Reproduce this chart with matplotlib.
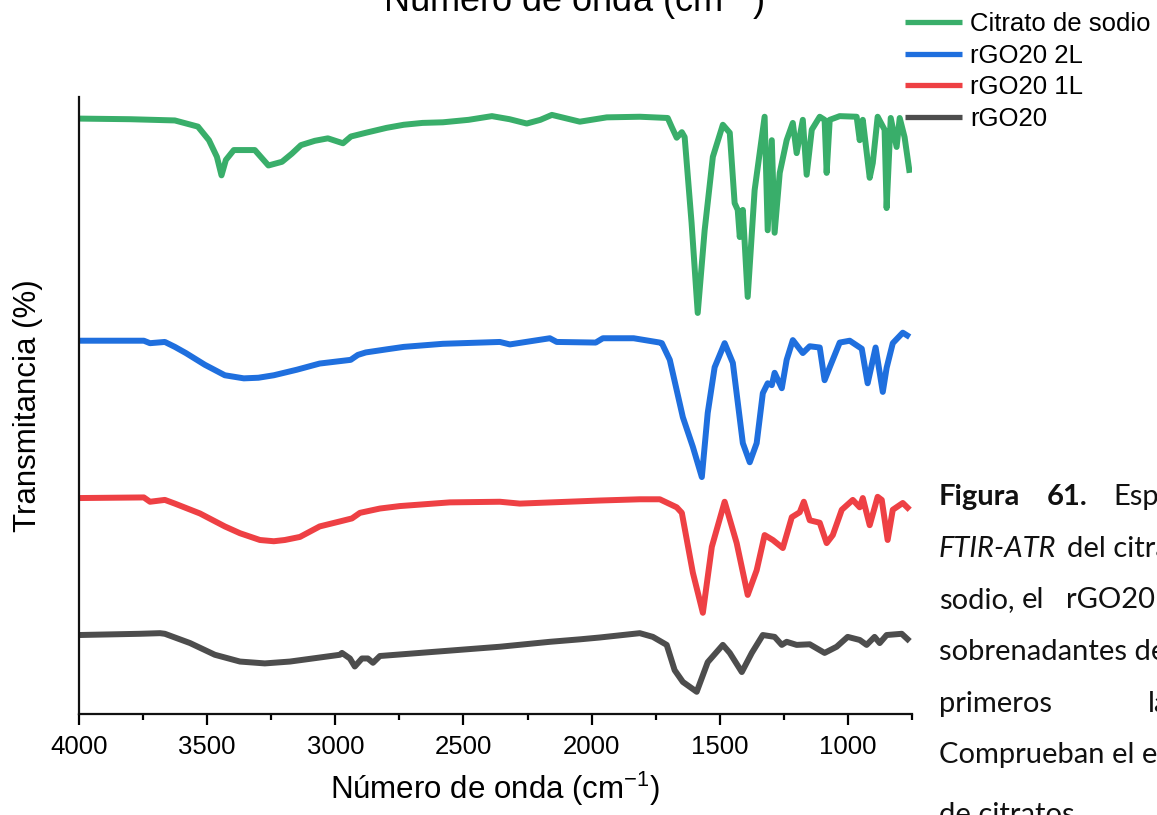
import matplotlib
matplotlib.use("Agg")
import matplotlib.pyplot as plt
from matplotlib.ticker import MultipleLocator, NullLocator

plt.rcParams['font.family'] = ['Liberation Sans', 'DejaVu Sans']
plt.rcParams['mathtext.fontset'] = 'custom'
plt.rcParams['mathtext.rm'] = 'Liberation Sans'
plt.rcParams['mathtext.it'] = 'Liberation Sans:italic'
plt.rcParams['mathtext.bf'] = 'Liberation Sans:bold'

# ---- FTIR-ATR spectra (stacked, arbitrary transmittance offsets) ----
citrato_wn = [4000, 3800, 3626, 3536, 3493, 3462, 3444, 3427, 3396, 3314, 3261, 3208,
              3170, 3134, 3080, 3029, 2970, 2939, 2881, 2800, 2733, 2660, 2580, 2480,
              2389, 2320, 2253, 2200, 2155, 2046, 1941, 1812,
              1703, 1687, 1668, 1648, 1637, 1610, 1586, 1559, 1527, 1488, 1461, 1442,
              1430, 1422, 1410, 1391, 1364, 1325, 1313, 1297, 1286, 1266, 1239, 1215,
              1200, 1176, 1161, 1141, 1110, 1091, 1083, 1071, 1032, 966, 954, 942,
              915, 903, 884, 857, 849, 833, 810, 798, 779, 759]
citrato_t = [96.5, 96.4, 96.2, 95.2, 93.0, 90.3, 87.3, 89.8, 91.4, 91.4, 88.9, 89.5,
             90.8, 92.2, 92.9, 93.3, 92.5, 93.6, 94.2, 95.0, 95.5, 95.8, 95.9, 96.3,
             96.9, 96.4, 95.7, 96.3, 97.1, 96.0, 96.7, 96.8,
             96.6, 95.1, 93.4, 94.3, 93.5, 79.6, 65.0, 78.4, 90.3, 95.5, 94.2, 82.8,
             81.7, 77.3, 81.7, 67.6, 84.9, 96.8, 78.4, 93.0, 78.0, 87.7, 93.0, 95.8,
             90.9, 96.3, 87.4, 94.7, 96.8, 96.3, 87.7, 96.3, 96.9, 96.8, 93.0, 96.3,
             86.9, 89.3, 96.8, 94.7, 82.0, 96.6, 91.9, 96.6, 93.5, 87.7]

rgo2l_wn = [4000, 3747, 3723, 3665, 3626, 3583, 3509, 3431, 3357, 3300, 3240, 3150,
            3061, 2940, 2912, 2881, 2800, 2733, 2580, 2358, 2319, 2163, 2136, 1984,
            1956, 1836, 1734, 1726, 1695, 1644, 1605, 1570, 1547, 1520, 1481, 1449,
            1410, 1383, 1356, 1332, 1313, 1297, 1286, 1258, 1239, 1215, 1176, 1149,
            1110, 1091, 1071, 1032, 993, 946, 923, 892, 864, 849, 825, 786, 759]
rgo2l_t = [60.5, 60.5, 60.1, 60.3, 59.5, 58.5, 56.6, 54.9, 54.4, 54.5, 54.9, 55.8,
           56.8, 57.4, 58.2, 58.6, 59.1, 59.5, 60.0, 60.3, 59.9, 60.9, 60.3, 60.2,
           60.9, 60.9, 60.2, 60.1, 57.4, 48.1, 43.3, 38.4, 48.8, 56.2, 60.1, 56.9,
           43.9, 40.8, 43.9, 52.0, 53.6, 53.3, 55.3, 52.8, 57.4, 60.6, 58.5, 59.6,
           59.4, 54.1, 56.2, 60.2, 60.5, 59.2, 53.6, 59.4, 52.2, 56.1, 60.1, 61.8, 61.1]

rgo1l_wn = [4000, 3747, 3723, 3665, 3626, 3528, 3431, 3372, 3294, 3240, 3197, 3138,
            3061, 2983, 2935, 2904, 2826, 2748, 2553, 2358, 2280, 1968, 1812, 1734,
            1668, 1648, 1605, 1566, 1531, 1481, 1434, 1391, 1356, 1325, 1293, 1254,
            1219, 1188, 1172, 1149, 1110, 1083, 1059, 1024, 981, 954, 942, 915,
            884, 868, 845, 825, 786, 759]
rgo1l_t = [35.0, 35.1, 34.4, 34.7, 34.1, 32.5, 30.4, 29.3, 28.2, 28.0, 28.2, 28.7,
           30.4, 31.2, 31.7, 32.6, 33.3, 33.7, 34.3, 34.4, 34.1, 34.6, 34.8, 34.8,
           33.5, 32.6, 22.9, 16.4, 27.1, 34.4, 27.7, 19.3, 23.3, 29.0, 28.2, 26.9,
           31.9, 32.7, 34.4, 31.4, 31.0, 27.7, 29.0, 33.1, 34.7, 33.5, 35.0, 30.6,
           35.2, 34.7, 28.2, 33.1, 34.2, 33.1]

rgo20_wn = [4000, 3762, 3684, 3665, 3567, 3470, 3372, 3275, 3177, 2982, 2974, 2943,
            2924, 2896, 2873, 2853, 2826, 2670, 2358, 2163, 2046, 1968, 1812, 1761,
            1707, 1676, 1644, 1590, 1547, 1488, 1461, 1414, 1375, 1332, 1286, 1258,
            1239, 1200, 1149, 1091, 1044, 1001, 954, 927, 896, 876, 849, 790, 759]
rgo20_t = [12.8, 13.0, 13.1, 13.0, 11.5, 9.6, 8.5, 8.2, 8.5, 9.6, 9.9, 9.0,
           7.7, 9.0, 9.0, 8.3, 9.4, 9.9, 10.9, 11.7, 12.1, 12.4, 13.1, 12.5,
           11.2, 7.1, 5.2, 3.6, 8.4, 11.2, 9.9, 6.8, 9.9, 12.8, 12.5, 11.2,
           11.7, 11.2, 11.3, 9.9, 10.9, 12.5, 12.0, 11.2, 12.5, 11.5, 12.8, 13.0, 11.8]

series_labels = ["Citrato de sodio", "rGO20 2L", "rGO20 1L", "rGO20"]
series_colors = ["#39AE6A", "#1F6FDE", "#EE4044", "#4D4D4D"]

W, H = 1157, 815


def fx(x):
    return x / W


def fy(y):
    return 1 - y / H


fig = plt.figure(figsize=(W / 100, H / 100), dpi=100)
ax = fig.add_axes([fx(79), fy(714), (912 - 79) / W, (714 - 97) / H])

spectra = [(citrato_wn, citrato_t), (rgo2l_wn, rgo2l_t),
           (rgo1l_wn, rgo1l_t), (rgo20_wn, rgo20_t)]
for (wn, t), lab, col in zip(spectra, series_labels, series_colors):
    ax.plot(wn, t, color=col, lw=4.3, label=lab,
            solid_joinstyle='round', solid_capstyle='butt')

ax.set_xlim(4000, 750)
ax.set_ylim(0, 100)
ax.spines['top'].set_visible(False)
ax.spines['right'].set_visible(False)
for s in ('left', 'bottom'):
    ax.spines[s].set_linewidth(1.6)
    ax.spines[s].set_color('#111111')
ax.xaxis.set_major_locator(MultipleLocator(500))
ax.xaxis.set_minor_locator(MultipleLocator(250))
ax.yaxis.set_major_locator(NullLocator())
ax.tick_params(axis='x', which='major', direction='out', length=8, width=1.6,
               labelsize=18.5, pad=7)
ax.tick_params(axis='x', which='minor', direction='out', length=4.5, width=1.6)

ax.set_xlabel('Número de onda (cm$^{-1}$)', fontsize=22.5, labelpad=8)
ax.set_ylabel('Transmitancia (%)', fontsize=22.5, labelpad=26)

# repeated axis title, partly cut by the page edge
fig.text(fx(574), fy(12), 'Número de onda (cm$^{-1}$)', fontsize=26,
         ha='center', va='baseline')

leg = ax.legend(loc='upper left', bbox_to_anchor=(fx(905), fy(12)),
                bbox_transform=fig.transFigure, frameon=False, fontsize=18.5,
                handlelength=2.22, handletextpad=0.31, labelspacing=0.30,
                borderpad=0, borderaxespad=0)
for line in leg.get_lines():
    line.set_linewidth(3.8)

# figure caption set beside the chart (justified text)
cap = dict(family=['Lato', 'DejaVu Sans'], fontsize=21, va='baseline',
           color='#111111')
caption_words = [
    (939, 505, 'Figura', 'bold', 'normal'),
    (1047, 505, '61.', 'bold', 'normal'),
    (1113, 505, 'Esp', 'normal', 'normal'),
    (939, 557, 'FTIR-ATR', 'normal', 'italic'),
    (1067, 557, 'del citra', 'normal', 'normal'),
    (939, 608, 'sodio,', 'normal', 'normal'),
    (1022, 608, 'el', 'normal', 'normal'),
    (1066, 608, 'rGO20', 'normal', 'normal'),
    (939, 660, 'sobrenadantes de', 'normal', 'normal'),
    (939, 712, 'primeros', 'normal', 'normal'),
    (1148, 712, 'la', 'normal', 'normal'),
    (939, 763, 'Comprueban el e', 'normal', 'normal'),
    (939, 823, 'de citratos', 'normal', 'normal'),
]
for x, y, word, weight, style in caption_words:
    fig.text(fx(x), fy(y), word, fontweight=weight, fontstyle=style, **cap)

fig.savefig('out.png', dpi=100)
